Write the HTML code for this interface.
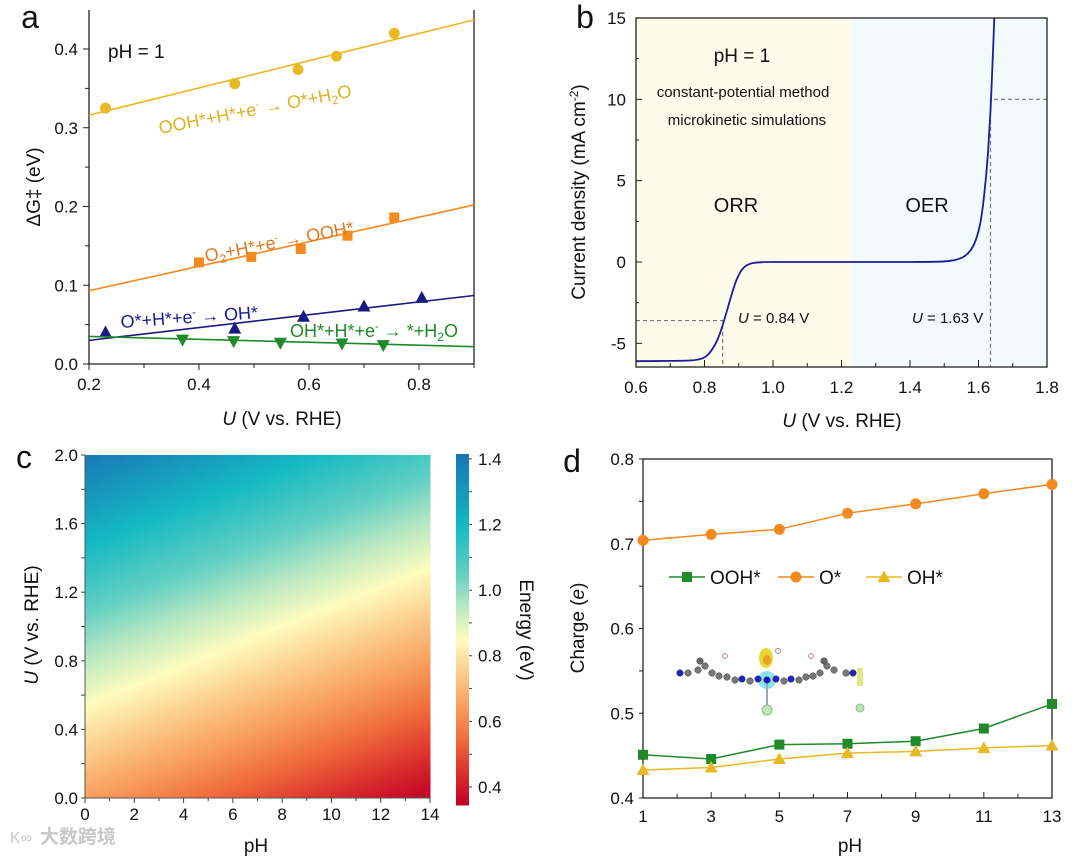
<!DOCTYPE html>
<html><head><meta charset="utf-8"><style>
html,body{margin:0;padding:0;background:#fff;}
svg{display:block;font-family:"Liberation Sans","Noto Sans CJK SC",sans-serif;}
</style></head><body>
<svg id="fig" width="1080" height="858" viewBox="0 0 1080 858" xmlns="http://www.w3.org/2000/svg"></svg>
<script>
// ---------- Panel a data ----------
const aOOH_U = [0.23, 0.465, 0.58, 0.65, 0.755];
const aOOH_G = [0.325, 0.356, 0.374, 0.391, 0.420];
const aOOH_fit = [0.316, 0.437];
const aO2_U = [0.40, 0.495, 0.585, 0.67, 0.755];
const aO2_G = [0.129, 0.136, 0.146, 0.163, 0.186];
const aO2_fit = [0.093, 0.202];
const aO_U = [0.23, 0.465, 0.59, 0.70, 0.805];
const aO_G = [0.040, 0.045, 0.060, 0.073, 0.084];
const aO_fit = [0.030, 0.087];
const aOH_U = [0.37, 0.463, 0.548, 0.66, 0.735];
const aOH_G = [0.031, 0.029, 0.027, 0.026, 0.024];
const aOH_fit = [0.035, 0.022];
const aXTicks = ["0.2","0.4","0.6","0.8"];
const aYTicks = ["0.0","0.1","0.2","0.3","0.4"];
// ---------- Panel b data ----------
const bU = [0.60,0.70,0.76,0.79,0.81,0.83,0.845,0.86,0.875,0.89,0.905,0.92,0.94,0.97,1.00,1.20,1.40,1.48,1.52,1.55,1.57,1.585,1.60,1.61,1.62,1.628,1.635,1.641,1.646];
const bJ = [-6.1,-6.08,-6.05,-5.95,-5.7,-5.1,-4.4,-3.4,-2.3,-1.3,-0.6,-0.25,-0.07,-0.01,0,0,0,0.02,0.08,0.25,0.55,1.0,1.9,3.0,4.8,6.8,9.3,12.2,15];
const bXTicks = ["0.6","0.8","1.0","1.2","1.4","1.6","1.8"];
const bYTicks = ["-5","0","5","10","15"];
const bOnsets = [0.853, 1.635];
const bOnsetJ = [-3.6, 10];
// ---------- Panel c data (energy read at grid corners/mid) ----------
const cPH = [0, 7, 14];
const cU = [0, 1, 2];
const cE = [ // rows = U, cols = pH
  [0.65, 0.50, 0.35],
  [1.02, 0.87, 0.72],
  [1.40, 1.25, 1.10]
];
const cXTicks = ["0","2","4","6","8","10","12","14"];
const cYTicks = ["0.0","0.4","0.8","1.2","1.6","2.0"];
const cBarTicks = ["0.4","0.6","0.8","1.0","1.2","1.4"];
// ---------- Panel d data ----------
const dPH = [1,3,5,7,9,11,13];
const dO = [0.704,0.711,0.717,0.736,0.747,0.759,0.770];
const dOOH = [0.451,0.446,0.463,0.464,0.467,0.482,0.511];
const dOH = [0.433,0.436,0.446,0.453,0.455,0.459,0.462];
const dXTicks = ["1","3","5","7","9","11","13"];
const dYTicks = ["0.4","0.5","0.6","0.7","0.8"];

const NS="http://www.w3.org/2000/svg";
const svg=document.getElementById('fig');
function el(tag,attrs,parent,text){const e=document.createElementNS(NS,tag);for(const k in attrs)e.setAttribute(k,attrs[k]);if(text!==undefined)e.textContent=text;(parent||svg).appendChild(e);return e;}
function grp(name){const g=el('g',{});return g;}
function lin(d0,d1,r0,r1){return v=>r0+(v-d0)*(r1-r0)/(d1-d0);}
function txt(g,x,y,s,size,anchor,name,extra){const t=el('text',Object.assign({x:x,y:y,'font-size':size,'text-anchor':anchor||'middle',fill:'#111'},extra||{}),g,s);return t;}

// ============ Panel a ============
(function(){
 const g=grp('panel-a');
 const X=lin(0.2,0.9,89,474), Y=lin(0,0.4,364,49);
 el('line',{x1:89,y1:10,x2:89,y2:364,stroke:'#222','stroke-width':1.3},g);
 el('line',{x1:89,y1:364,x2:474,y2:364,stroke:'#222','stroke-width':1.3},g);
 el('line',{x1:474,y1:10,x2:474,y2:364,stroke:'#222','stroke-width':1.3},g);
 for(let i=0;i<=7;i++){const v=0.2+i*0.1,x=X(v);el('line',{x1:x,y1:364,x2:x,y2:i%2?368:370,stroke:'#222'},g);}
 aXTicks.forEach(s=>{txt(g,X(+s),390,s,17,'middle','x-tick-label');});
 for(let i=0;i<=8;i++){const y=Y(i*0.05);el('line',{x1:89,y1:y,x2:i%2?85:83,y2:y,stroke:'#222'},g);}
 aYTicks.forEach(s=>{txt(g,78,Y(+s)+6,s,17,'end','y-tick-label');});
 txt(g,30,28,'a',32,'middle','panel-label-a');
 const xt=txt(g,282,425,'',19,'middle','x-axis-title');
 el('tspan',{'font-style':'italic'},xt,'U');el('tspan',{},xt,' (V vs. RHE)');
 txt(g,0,0,'ΔG‡ (eV)',19,'middle','y-axis-title',{transform:'translate(40,187) rotate(-90)'});
 txt(g,108,58,'pH = 1',19,'start','ph-annotation');
 function series(U,G,fit,color,shape,name){
  const l=el('line',{x1:X(0.2),y1:Y(fit[0]),x2:X(0.9),y2:Y(fit[1]),stroke:color,'stroke-width':1.6},g);
  
  U.forEach((u,i)=>{const x=X(u),y=Y(G[i]);let m;
   if(shape==='c')m=el('circle',{cx:x,cy:y,r:5.5,fill:color},g);
   else if(shape==='s')m=el('rect',{x:x-5,y:y-5,width:10,height:10,fill:color},g);
   else if(shape==='t')m=el('polygon',{points:`${x},${y-7} ${x-6.5},${y+5} ${x+6.5},${y+5}`,fill:color},g);
   else m=el('polygon',{points:`${x},${y+7} ${x-6.5},${y-5} ${x+6.5},${y-5}`,fill:color},g);
   });
 }
 series(aOOH_U,aOOH_G,aOOH_fit,'#e8b923','c','ooh-to-o');
 series(aO2_U,aO2_G,aO2_fit,'#f28a1e','s','o2-to-ooh');
 series(aO_U,aO_G,aO_fit,'#1a1a80','t','o-to-oh');
 series(aOH_U,aOH_G,aOH_fit,'#1e8a2a','v','oh-to-h2o');
 let t=txt(g,0,0,'',18,'start','ooh-reaction-label',{fill:'#e0b020',transform:'translate(160,134) rotate(-11)'});
 t.innerHTML='OOH*+H*+e<tspan dy="-7" font-size="11">-</tspan><tspan dy="7"> → O*+H</tspan><tspan dy="4" font-size="12">2</tspan><tspan dy="-4">O</tspan>';
 t=txt(g,0,0,'',18,'start','o2-reaction-label',{fill:'#e07a20',transform:'translate(206,262) rotate(-11)'});
 t.innerHTML='O<tspan dy="4" font-size="12">2</tspan><tspan dy="-4">+H*+e</tspan><tspan dy="-7" font-size="11">-</tspan><tspan dy="7"> → OOH*</tspan>';
 t=txt(g,0,0,'',18,'start','o-reaction-label',{fill:'#1a1a90',transform:'translate(121,328) rotate(-4)'});
 t.innerHTML='O*+H*+e<tspan dy="-7" font-size="11">-</tspan><tspan dy="7"> → OH*</tspan>';
 t=txt(g,290,337,'',18,'start','oh-reaction-label',{fill:'#1e8a2a'});
 t.innerHTML='OH*+H*+e<tspan dy="-7" font-size="11">-</tspan><tspan dy="7"> → *+H</tspan><tspan dy="4" font-size="12">2</tspan><tspan dy="-4">O</tspan>';
})();

// ============ Panel b ============
(function(){
 const g=grp('panel-b');
 const X=lin(0.6,1.8,636,1047), Y=lin(0,15,262,18);
 el('rect',{x:636,y:18,width:X(1.23)-636,height:349,fill:'#fdfcea'},g);
 el('rect',{x:X(1.23),y:18,width:1047-X(1.23),height:349,fill:'#f2fafc'},g);
 for(let i=0;i<=12;i++){const x=X(0.6+i*0.1);el('line',{x1:x,y1:367,x2:x,y2:i%2?363:360,stroke:'#222'},g);}
 bXTicks.forEach(s=>txt(g,X(+s),393,s,17,'middle','x-tick-label'));
 for(let v=-5;v<=15;v+=2.5){const y=Y(v);el('line',{x1:636,y1:y,x2:(v%5===0)?642:639,y2:y,stroke:'#222'},g);}
 bYTicks.forEach(s=>txt(g,626,Y(+s)+6,s,17,'end','y-tick-label'));
 const dash={stroke:'#777','stroke-width':1.2,'stroke-dasharray':'4,3',fill:'none'};
 el('polyline',Object.assign({points:`${X(0.6)},${Y(bOnsetJ[0])} ${X(bOnsets[0])},${Y(bOnsetJ[0])} ${X(bOnsets[0])},367`},dash),g);
 el('polyline',Object.assign({points:`${X(1.8)},${Y(bOnsetJ[1])} ${X(bOnsets[1])},${Y(bOnsetJ[1])} ${X(bOnsets[1])},367`},dash),g);
 // smooth curve (Catmull-Rom through data points)
 const P=bU.map((u,i)=>[X(u),Y(bJ[i])]);
 let d='M'+P[0][0].toFixed(1)+','+P[0][1].toFixed(1);
 for(let i=0;i<P.length-1;i++){
  const p0=P[Math.max(i-1,0)],p1=P[i],p2=P[i+1],p3=P[Math.min(i+2,P.length-1)];
  const c1=[p1[0]+(p2[0]-p0[0])/6,p1[1]+(p2[1]-p0[1])/6],c2=[p2[0]-(p3[0]-p1[0])/6,p2[1]-(p3[1]-p1[1])/6];
  d+=`C${c1[0].toFixed(1)},${c1[1].toFixed(1)} ${c2[0].toFixed(1)},${c2[1].toFixed(1)} ${p2[0].toFixed(1)},${p2[1].toFixed(1)}`;
 }
 const p=el('path',{d:d,fill:'none',stroke:'#1c1c9a','stroke-width':1.8,'stroke-linejoin':'round'},g);
 
 el('rect',{x:636,y:18,width:411,height:349,fill:'none',stroke:'#222','stroke-width':1.3},g);
 txt(g,585,28,'b',32,'middle','panel-label-b');
 const xt=txt(g,842,427,'',19,'middle','x-axis-title');
 el('tspan',{'font-style':'italic'},xt,'U');el('tspan',{},xt,' (V vs. RHE)');
 const yt=txt(g,0,0,'',19,'middle','y-axis-title',{transform:'translate(585,192) rotate(-90)'});
 yt.innerHTML='Current density (mA cm<tspan dy="-7" font-size="12">-2</tspan><tspan dy="7">)</tspan>';
 txt(g,742,62,'pH = 1',19,'middle','ph-annotation');
 txt(g,743,97,'constant-potential method',15,'middle','method-label');
 txt(g,747,125,'microkinetic simulations',15,'middle','method-label-2');
 txt(g,736,212,'ORR',20,'middle','orr-label');
 txt(g,927,212,'OER',20,'middle','oer-label');
 let t=txt(g,738,323,'',15,'start','orr-onset-label');t.innerHTML='<tspan font-style="italic">U</tspan> = 0.84 V';
 t=txt(g,912,323,'',15,'start','oer-onset-label');t.innerHTML='<tspan font-style="italic">U</tspan> = 1.63 V';
})();

// ============ Panel c ============
const cStops=[[0.35,[192,0,38]],[0.45,[220,50,45]],[0.55,[240,110,60]],[0.65,[248,160,95]],[0.75,[252,205,140]],[0.85,[255,252,190]],[0.95,[185,232,195]],[1.05,[100,208,195]],[1.2,[20,185,195]],[1.42,[25,115,180]]];
function cmap(v){if(v<=cStops[0][0])return cStops[0][1];for(let i=1;i<cStops.length;i++){if(v<=cStops[i][0]){const a=cStops[i-1],b=cStops[i],t=(v-a[0])/(b[0]-a[0]);return a[1].map((c,k)=>Math.round(c+(b[1][k]-c)*t));}}return cStops[cStops.length-1][1];}
function cEnergy(ph,u){
 let i=ph<=cPH[1]?0:1, j=u<=cU[1]?0:1;
 const tx=(ph-cPH[i])/(cPH[i+1]-cPH[i]), ty=(u-cU[j])/(cU[j+1]-cU[j]);
 return cE[j][i]*(1-tx)*(1-ty)+cE[j][i+1]*tx*(1-ty)+cE[j+1][i]*(1-tx)*ty+cE[j+1][i+1]*tx*ty;}
(function(){
 const g=grp('panel-c');
 const X=lin(0,14,85,430), Y=lin(0,2,798,455);
 const nx=115, ny=115, dw=345/nx, dh=343/ny;
 const cells=el('g',{'shape-rendering':'crispEdges'},g);
 
 for(let i=0;i<nx;i++)for(let j=0;j<ny;j++){
  const ph=(i+0.5)*14/nx,u=(j+0.5)*2/ny;
  const e=cEnergy(ph,u);
  const c=cmap(e);
  el('rect',{x:(85+i*dw).toFixed(2),y:(455+(ny-1-j)*dh).toFixed(2),width:(dw+0.6).toFixed(2),height:(dh+0.6).toFixed(2),fill:`rgb(${c})`},cells);
 }
 el('line',{x1:85,y1:455,x2:85,y2:798,stroke:'#555'},g);
 el('line',{x1:85,y1:798,x2:430,y2:798,stroke:'#555'},g);
 for(let v=0;v<=14;v+=1){const x=X(v);el('line',{x1:x,y1:798,x2:x,y2:v%2?801:803,stroke:'#444'},g);}
 cXTicks.forEach(s=>txt(g,X(+s),820,s,17,'middle','x-tick-label'));
 for(let v=0;v<=2.001;v+=0.2){const y=Y(v);el('line',{x1:85,y1:y,x2:81,y2:y,stroke:'#444'},g);}
 cYTicks.forEach(s=>txt(g,78,Y(+s)+6,s,17,'end','y-tick-label'));
 txt(g,24,468,'c',32,'middle','panel-label-c');
 txt(g,256,852,'pH',19,'middle','x-axis-title');
 const yt=txt(g,0,0,'',19,'middle','y-axis-title',{transform:'translate(38,625) rotate(-90)'});
 el('tspan',{'font-style':'italic'},yt,'U');el('tspan',{},yt,' (V vs. RHE)');
 const CB=lin(0.345,1.415,805,454);
 const cb=el('g',{'shape-rendering':'crispEdges'},g);
 
 for(let k=0;k<140;k++){const v=0.345+(k+0.5)*(1.07/140);const c=cmap(v);el('rect',{x:456,y:(CB(v)-351/140/2).toFixed(2),width:13,height:(351/140+0.6).toFixed(2),fill:`rgb(${c})`},cb);}
 for(let v=0.4;v<=1.41;v+=0.1){const y=CB(v);el('line',{x1:469,y1:y,x2:472,y2:y,stroke:'#444'},g);}
 cBarTicks.forEach(s=>txt(g,478,CB(+s)+6,s,17,'start','colorbar-tick-label'));
 txt(g,0,0,'Energy (eV)',19,'middle','colorbar-title',{transform:'translate(520,630) rotate(90)'});
 txt(g,40,843,'大数跨境',19,'start','watermark',{fill:'#c8c8c8','font-weight':'bold'});
 txt(g,10,843,'K∞',16,'start','watermark-logo',{fill:'#c8c8c8'});
})();

// ============ Panel d ============
(function(){
 const g=grp('panel-d');
 const X=lin(1,13,643,1052), Y=lin(0.4,0.8,798,459);
 el('rect',{x:643,y:459,width:409,height:339,fill:'none',stroke:'#222','stroke-width':1.3},g);
 for(let v=1;v<=13;v++){const x=X(v);el('line',{x1:x,y1:798,x2:x,y2:v%2?792:794,stroke:'#222'},g);}
 dXTicks.forEach(s=>txt(g,X(+s),822,s,17,'middle','x-tick-label'));
 for(let v=0.4;v<=0.801;v+=0.05){const y=Y(v);el('line',{x1:643,y1:y,x2:639,y2:y,stroke:'#222'},g);}
 dYTicks.forEach(s=>txt(g,634,Y(+s)+6,s,17,'end','y-tick-label'));
 txt(g,572,472,'d',32,'middle','panel-label-d');
 txt(g,850,852,'pH',19,'middle','x-axis-title');
 const yt=txt(g,0,0,'',19,'middle','y-axis-title',{transform:'translate(584,628) rotate(-90)'});
 yt.innerHTML='Charge (<tspan font-style="italic">e</tspan>)';
 const ins=el('g',{},g);
 el('rect',{x:672,y:645,width:192,height:75,fill:'#fff'},ins);
 el('ellipse',{cx:767,cy:680,rx:9,ry:9,fill:'#7fe0ee',opacity:0.9},ins);
 el('ellipse',{cx:766,cy:658,rx:7,ry:10,fill:'#e8d830'},ins);
 el('ellipse',{cx:767,cy:660,rx:4,ry:5,fill:'#e8a030'},ins);
 el('line',{x1:767,y1:680,x2:767,y2:708,stroke:'#9ab',"stroke-width":2},ins);
 el('circle',{cx:767,cy:710,r:5,fill:'#bfe5b5',stroke:'#8b8'},ins);
 el('circle',{cx:860,cy:708,r:4,fill:'#bfe5b5',stroke:'#8b8'},ins);
 const atoms=[[680,673,'#2222bb'],[688,673,'#777'],[698,670,'#777'],[705,666,'#777'],[712,673,'#777'],[719,676,'#777'],[727,677,'#777'],[735,680,'#777'],[742,679,'#2222cc'],[750,681,'#777'],[758,679,'#2222cc'],[767,680,'#1515cc'],[776,679,'#2222cc'],[784,681,'#777'],[791,679,'#2222cc'],[799,680,'#777'],[806,677,'#777'],[813,676,'#777'],[820,673,'#777'],[827,666,'#777'],[834,670,'#777'],[846,673,'#777'],[853,673,'#2222bb'],[700,661,'#666'],[824,661,'#666']];
 atoms.forEach(a=>el('circle',{cx:a[0],cy:a[1],r:3.3,fill:a[2],stroke:'#444','stroke-width':0.5},ins));
 el('circle',{cx:725,cy:656,r:2.5,fill:'#fff',stroke:'#b88'},ins);
 el('circle',{cx:811,cy:656,r:2.5,fill:'#fff',stroke:'#b88'},ins);
 el('circle',{cx:778,cy:651,r:2.5,fill:'#fff',stroke:'#b88'},ins);
 el('rect',{x:857,y:668,width:6,height:18,fill:'#d8e060',opacity:0.8},ins);
 function series(vals,color,shape,name){
  const pts=dPH.map((p,i)=>X(p).toFixed(1)+','+Y(vals[i]).toFixed(1)).join(' ');
  const l=el('polyline',{points:pts,fill:'none',stroke:color,'stroke-width':1.5},g);
  
  dPH.forEach((p,i)=>{const x=X(p),y=Y(vals[i]);mark(x,y,color,shape,name+'-point');});
 }
 function mark(x,y,color,shape,name){let m;
  if(shape==='s')m=el('rect',{x:x-5,y:y-5,width:10,height:10,fill:color},g);
  else if(shape==='c')m=el('circle',{cx:x,cy:y,r:5.5,fill:color},g);
  else m=el('polygon',{points:`${x},${y-6.5} ${x-6.5},${y+5} ${x+6.5},${y+5}`,fill:color},g);
  }
 series(dOOH,'#1e8a2a','s','ooh');
 series(dO,'#f28a1e','c','o');
 series(dOH,'#e8b923','t','oh');
 const lg=[[669,'#1e8a2a','s','OOH*'],[778,'#f28a1e','c','O*'],[866,'#e8b923','t','OH*']];
 lg.forEach(L=>{el('line',{x1:L[0],y1:577,x2:L[0]+36,y2:577,stroke:L[1],'stroke-width':1.5},g);mark(L[0]+18,577,L[1],L[2],'legend-marker');txt(g,L[0]+41,584,L[3],19,'start','legend-entry');});
})();
</script>
</body></html>
